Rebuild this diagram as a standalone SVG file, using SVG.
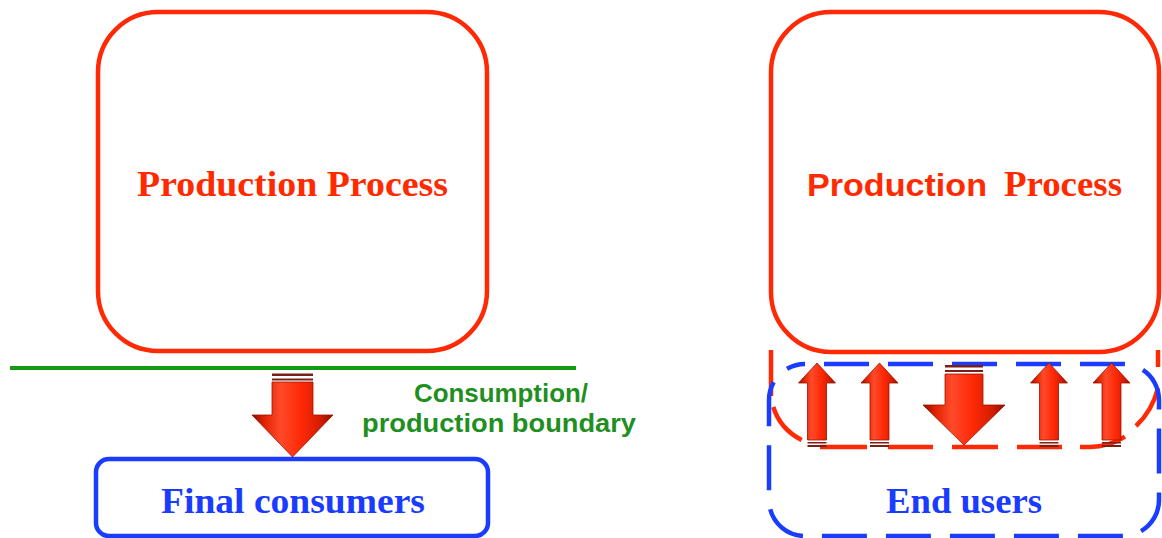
<svg xmlns="http://www.w3.org/2000/svg" width="1162" height="538" viewBox="0 0 1162 538">
<style>
.red{fill:none;stroke:#ff2a05;stroke-width:4.5}
.blue{fill:none;stroke:#1a3cff;stroke-width:4.5}
.serif{font-family:"Liberation Serif","Times New Roman",serif;font-weight:bold}
.sans{font-family:"Liberation Sans",Arial,sans-serif;font-weight:bold}
.rt{fill:#ff2a00;font-size:36px}
.bt{fill:#1a3cff;font-size:36px}
.gt{fill:#1f8f1f;font-size:25px}
.arrow{fill:url(#ag);stroke:#a01200;stroke-width:0.8}
.stripe{fill:#7a2018}
</style>
<defs>
<linearGradient id="ag" x1="0" y1="0" x2="1" y2="0">
<stop offset="0" stop-color="#8a0e00"/>
<stop offset="0.15" stop-color="#e02200"/>
<stop offset="0.35" stop-color="#ff4a2a"/>
<stop offset="0.6" stop-color="#ff2a08"/>
<stop offset="0.85" stop-color="#d21c00"/>
<stop offset="1" stop-color="#8a0e00"/>
</linearGradient>
</defs>
<rect width="1162" height="538" fill="#ffffff"/>

<g id="left-production-process">
<rect class="red" x="98" y="12" width="389" height="339" rx="60"/>
<text class="serif rt" x="292.5" y="196" text-anchor="middle" textLength="311" lengthAdjust="spacingAndGlyphs">Production Process</text>
</g>

<g id="boundary">
<line x1="10" y1="368" x2="576" y2="368" stroke="#159a15" stroke-width="4"/>
<text class="sans gt" x="501" y="402" text-anchor="middle" textLength="174" lengthAdjust="spacingAndGlyphs">Consumption/</text>
<text class="sans gt" x="499" y="432" text-anchor="middle" textLength="274" lengthAdjust="spacingAndGlyphs">production boundary</text>
</g>

<g id="final-consumers">
<rect class="blue" x="96" y="459" width="392" height="77" rx="13"/>
<text class="serif bt" x="293" y="513" text-anchor="middle" textLength="264" lengthAdjust="spacingAndGlyphs">Final consumers</text>
</g>

<g id="right-production-process">
<rect class="red" x="771" y="12" width="388" height="340" rx="60"/>
<text class="rt" x="807" y="196"><tspan class="sans" font-size="32" textLength="180" lengthAdjust="spacingAndGlyphs">Production</tspan><tspan class="serif" x="1004" textLength="118" lengthAdjust="spacingAndGlyphs">Process</tspan></text>
</g>

<g id="consumption-overlap">
<path class="red" d="M771 350 L771 396 M773.3 407 A60 55 0 0 0 801.7 440 M820 447 L867 447 M888 447 L933 447 M952 447 L998 447 M1017 447 L1062 447 M1080 447 L1090 447 A70 77 0 0 0 1125 436.7 M1136 426 A70 77 0 0 0 1158 388 M1158 367 L1158 350"/>
</g>

<g id="end-users">
<rect class="blue" x="769" y="364" width="390" height="172" rx="36" stroke-dasharray="45 19" stroke-dashoffset="-19"/>
<text class="serif bt" x="964" y="513" text-anchor="middle" textLength="156" lengthAdjust="spacingAndGlyphs">End users</text>
</g>

<g id="connectors">
<g id="arrow-left-down">
<rect class="stripe" x="272" y="373.5" width="41" height="2.5"/>
<rect class="stripe" x="272" y="378.5" width="41" height="2"/>
<path class="arrow" d="M272 382 L313 382 L313 415 L333 415 L292.5 457 L252 415 L272 415 Z"/>
</g>
<g id="arrow-right-down">
<rect class="stripe" x="945" y="365" width="38" height="2.5"/>
<rect class="stripe" x="945" y="370" width="38" height="2"/>
<path class="arrow" d="M945 374 L983 374 L983 405 L1005 405 L964 445 L923 405 L945 405 Z"/>
</g>
<g id="arrow-up-1">
<path class="arrow" d="M817 363 L835.5 383 L826.5 383 L826.5 440 L807.5 440 L807.5 383 L798.5 383 Z"/>
<rect class="stripe" x="807.5" y="442" width="19" height="1.5"/>
<rect class="stripe" x="807.5" y="445" width="19" height="2"/>
</g>
<g id="arrow-up-2">
<path class="arrow" d="M879.5 363 L898 383 L889 383 L889 440 L870 440 L870 383 L861 383 Z"/>
<rect class="stripe" x="870" y="442" width="19" height="1.5"/>
<rect class="stripe" x="870" y="445" width="19" height="2"/>
</g>
<g id="arrow-up-3">
<path class="arrow" d="M1049 363 L1067.5 383 L1058.5 383 L1058.5 440 L1039.5 440 L1039.5 383 L1030.5 383 Z"/>
<rect class="stripe" x="1039.5" y="442" width="19" height="1.5"/>
<rect class="stripe" x="1039.5" y="445" width="19" height="2"/>
</g>
<g id="arrow-up-4">
<path class="arrow" d="M1111.5 363 L1130 383 L1121 383 L1121 440 L1102 440 L1102 383 L1093 383 Z"/>
<rect class="stripe" x="1102" y="442" width="19" height="1.5"/>
<rect class="stripe" x="1102" y="445" width="19" height="2"/>
</g>
</g>
</svg>
